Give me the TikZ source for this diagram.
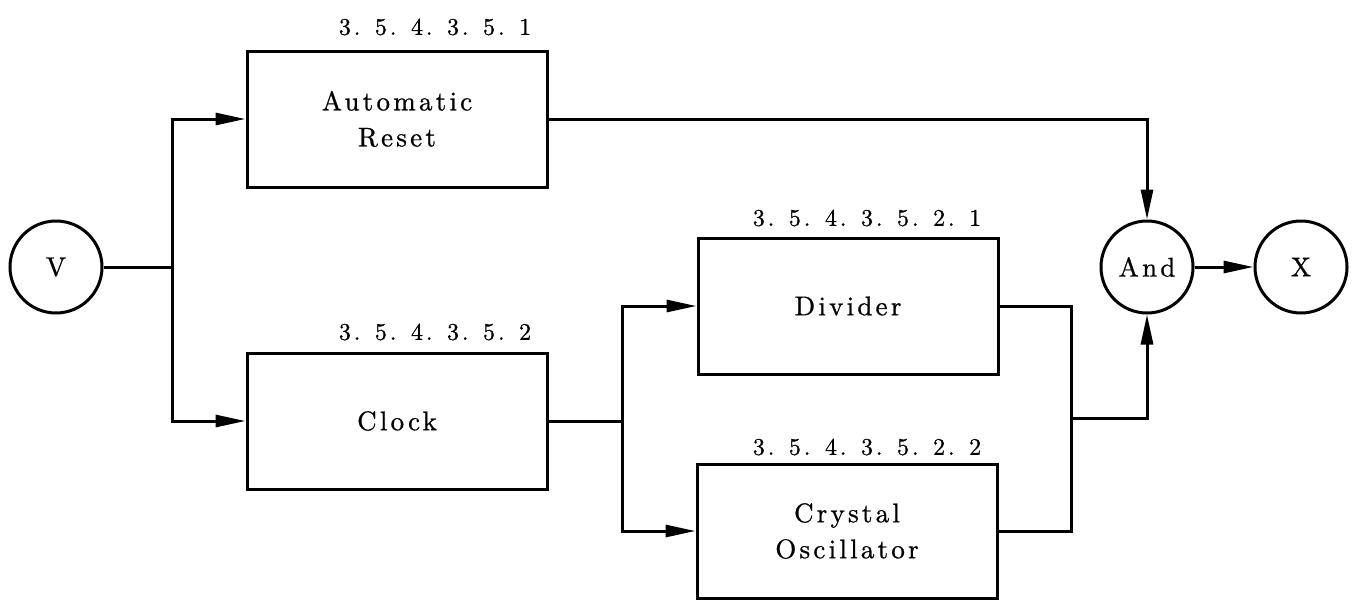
\documentclass[tikz,border=0pt]{standalone}
\usepackage{fontspec}
\newfontfamily\boxfont{lmroman10-regular}[Extension=.otf, LetterSpace=12, FakeBold=0.8]
\newfontfamily\numfont{lmroman10-regular}[Extension=.otf, LetterSpace=12, FakeBold=0.8]
\usetikzlibrary{arrows.meta}
\begin{document}
\begin{tikzpicture}[x=1pt,y=-1pt,
  every node/.style={inner sep=0pt},
  ln/.style={line width=3pt, line join=miter},
  arr/.style={ln, -{Triangle[length=30pt,width=12pt]}},
  boxtext/.style={font=\boxfont\fontsize{27}{36}\selectfont},
  blk/.style={draw, ln, rectangle, minimum width=300pt, minimum height=136pt, align=center, boxtext},
  circ/.style={draw, ln, circle, minimum size=92pt, boxtext},
  num/.style={font=\numfont\fontsize{24}{26}\selectfont}
]
\useasboundingbox (0,0) rectangle (1354,600);
\node[circ] (V) at (56,267) {V};
\node[blk] (AR) at (397,119) {Automatic\\Reset};
\node[blk] (CL) at (397,421) {Clock};
\node[blk] (DV) at (848,306) {Divider};
\node[blk, minimum height=134pt] (CO) at (847,531) {Crystal\\Oscillator};
\node[circ] (AND) at (1147,267) {And};
\node[circ] (X) at (1301,267) {X};
\node[num] (l1) at (435,27) {3. 5. 4. 3. 5. 1};
\node[num] (l2) at (435,332) {3. 5. 4. 3. 5. 2};
\node[num] (l3) at (867,218) {3. 5. 4. 3. 5. 2. 1};
\node[num] (l4) at (867,447) {3. 5. 4. 3. 5. 2. 2};
\coordinate (j1) at (172,267);
\coordinate (j2) at (622,421);
\coordinate (j3) at (1071,418);
\draw[ln] (V) -- (j1);
\draw[arr] (j1) |- (AR.west);
\draw[arr] (j1) |- (CL.west);
\draw[ln] (CL.east) -- (j2);
\draw[arr] (j2) |- (DV.west);
\draw[arr] (j2) |- (CO.west);
\draw[ln] (DV.east) -| (j3);
\draw[ln] (CO.east) -| (j3);
\draw[arr] (j3) -| (AND.south);
\draw[arr] (AR.east) -| (AND.north);
\draw[arr] (AND) -- (X);
\end{tikzpicture}
\end{document}
